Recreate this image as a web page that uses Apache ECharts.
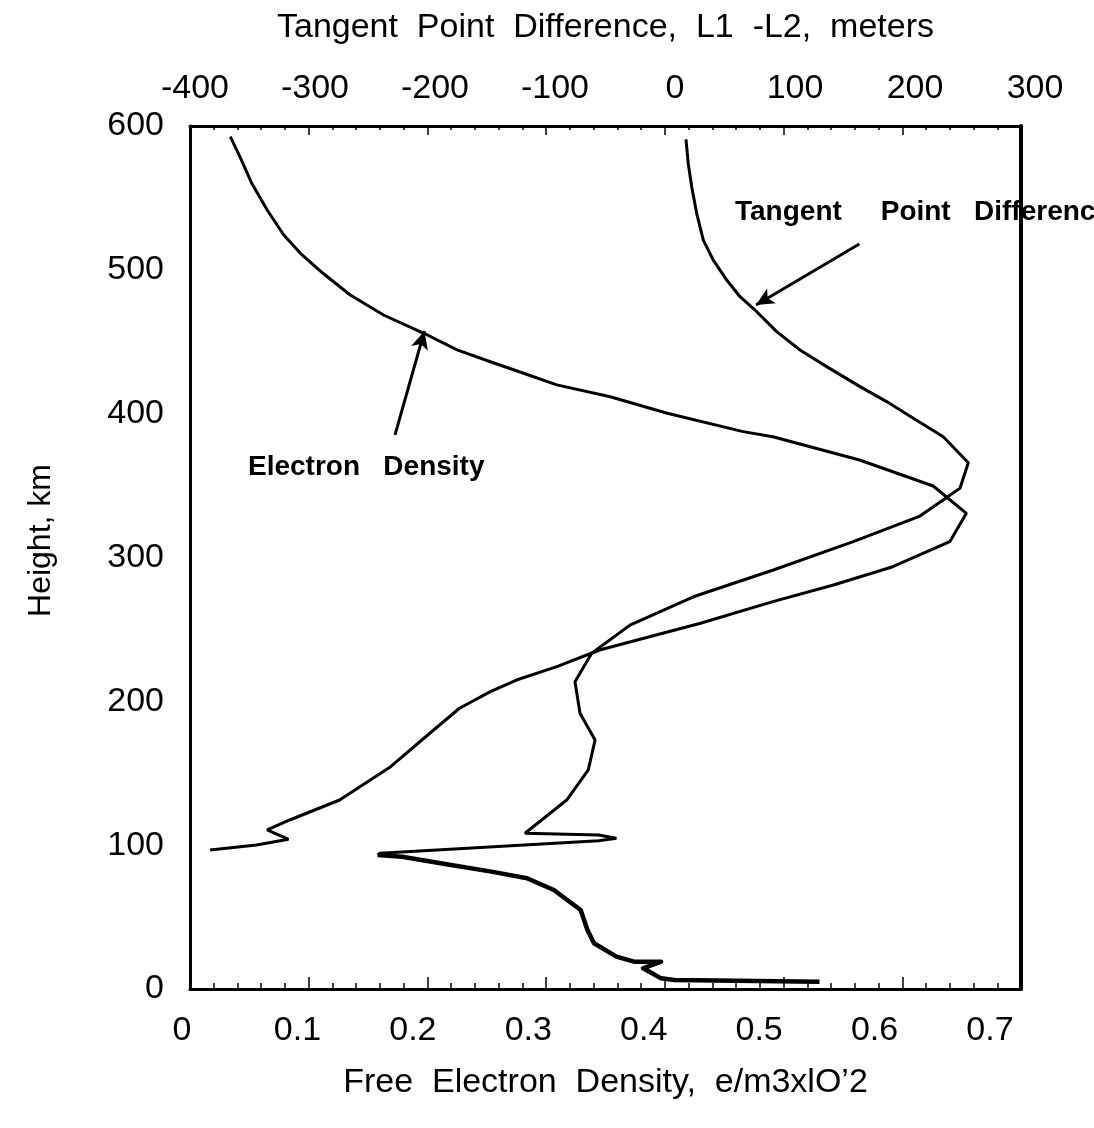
<!DOCTYPE html>
<html>
<head>
<meta charset="utf-8">
<script src="https://cdn.jsdelivr.net/npm/echarts@6/dist/echarts.min.js"></script>
<style>
  html, body { margin: 0; padding: 0; background: #fff; }
  #chart { width: 1094px; height: 1128px; }
</style>
</head>
<body>
<div id="chart"></div>
<script>
// ---- data ----
// Electron density profile: density (e/m3 x 10^12) vs height (km)
const edDensity = [0.034,0.042,0.052,0.065,0.079,0.093,0.112,0.135,0.163,0.197,0.225,0.253,0.281,0.309,0.354,0.402,0.466,0.491,0.564,0.626,0.654,0.640,0.592,0.542,0.491,0.430,0.345,0.309,0.275,0.253,0.227,0.202,0.169,0.126,0.084,0.065,0.083,0.056,0.017];
const edHeight  = [592.6,578.7,560.2,541.6,524.2,511.5,497.6,482.5,468.6,455.9,444.3,436.1,428.1,420.0,411.8,400.3,387.5,384.0,367.8,349.7,330.7,311.0,293.6,280.9,269.3,254.3,235.7,224.1,214.8,206.7,195.2,177.8,154.6,131.4,117.5,110.6,104.1,100.1,96.6];

// Tangent point difference L1-L2 (m) vs height (km), upper (smooth) part
const tpDiff   = [17.8,19.7,22.6,26.8,32.4,40.8,52.1,63.3,77.4,94.2,113.8,136.3,164.4,186.8,209.3,234.5,255.6,248.6,214.9,158.7,91.4,24.0,-29.4,-61.6,-75.7,-71.5,-58.8,-64.5,-82.7,-117.8,-55.8,-40.8,-55.8,-240.1,-241.9];
const tpHeight = [590.7,574.0,557.8,539.3,520.7,506.8,492.9,481.3,470.9,457.0,444.3,432.7,418.8,408.4,396.8,384.0,365.9,348.1,328.8,311.0,291.3,272.7,253.0,233.4,213.6,191.7,173.1,152.3,131.4,108.3,107.1,104.8,103.1,94.3,93.2];
// lower (noisy) part of the same trace
const tpLowDiff   = [-241.9,-221.4,-180.1,-146.1,-116.1,-93.5,-82.2,-70.9,-65.2,-59.7,-40.8,-26.0,-3.2,-18.4,-10.8,-3.2,8.1,130.3];
const tpLowHeight = [93.2,92.0,86.2,81.6,77.0,68.8,61.9,54.9,41.0,31.8,22.5,19.0,19.0,14.4,10.9,7.4,6.3,5.1];

// Axis tick labels
const densityTicks = [0, 0.1, 0.2, 0.3, 0.4, 0.5, 0.6, 0.7];
const diffTicks    = [-400, -300, -200, -100, 0, 100, 200, 300];
const heightTicks  = [0, 100, 200, 300, 400, 500, 600];

// Annotation arrows (tail -> tip) in data units
const edArrow = { tail: [0.1727, 385.2], tip: [0.1975, 457.5] };
const tpArrow = { tail: [163.8, 518.0], tip: [76.8, 475.5] };

// ---- chart ----
const FONT = '"Liberation Sans", Arial, sans-serif';
const chart = echarts.init(document.getElementById('chart'), null, { renderer: 'canvas' });

const pairs = (xs, ys) => xs.map((x, i) => [x, ys[i]]);
const densityLabel = v => {
  const t = densityTicks.find(d => Math.abs(d - v) < 1e-6);
  return t === undefined ? '' : (t === 0 ? '0' : t.toFixed(1));
};
const diffLabel = v => {
  const t = diffTicks.find(d => Math.abs(d - v) < 1e-6);
  return t === undefined ? '' : String(t);
};
const labelFont = { fontFamily: FONT, fontSize: 34, color: '#000' };
const hMin = heightTicks[0], hMax = heightTicks[heightTicks.length - 1];

const option = {
  animation: false,
  backgroundColor: '#fff',
  grid: [
    { left: 190, top: 126, right: 73, bottom: 139, containLabel: false },
    // label rows of the printed scales (slightly offset from the tick marks in the original)
    { left: 182, top: 126, right: 104, bottom: 139, containLabel: false, show: false },
    { left: 195, top: 126, right: 59, bottom: 139, containLabel: false, show: false }
  ],
  xAxis: [
    {
      type: 'value', position: 'bottom', gridIndex: 0,
      min: densityTicks[0], max: densityTicks[densityTicks.length - 1], interval: 0.1,
      name: 'Free  Electron  Density,  e/m3xlO\u20192',
      nameLocation: 'middle', nameGap: 77,
      nameTextStyle: labelFont,
      axisLine: { show: true, onZero: false, lineStyle: { color: '#000', width: 3 } },
      axisTick: { show: true, inside: true, length: 12, lineStyle: { color: '#000', width: 1.5 } },
      minorTick: { show: true, splitNumber: 5, length: 6, lineStyle: { color: '#000', width: 1.5 } },
      axisLabel: { show: false },
      splitLine: { show: false }
    },
    {
      type: 'value', position: 'top', gridIndex: 0,
      min: diffTicks[0], max: diffTicks[diffTicks.length - 1], interval: 100,
      name: 'Tangent  Point  Difference,  L1  -L2,  meters',
      nameLocation: 'middle', nameGap: 81,
      nameTextStyle: labelFont,
      axisLine: { show: true, onZero: false, lineStyle: { color: '#000', width: 3 } },
      axisTick: { show: true, inside: true, length: 9, lineStyle: { color: '#000', width: 1.5 } },
      minorTick: { show: true, splitNumber: 5, length: 4, lineStyle: { color: '#000', width: 1.5 } },
      axisLabel: { show: false },
      splitLine: { show: false }
    },
    {
      type: 'value', position: 'bottom', gridIndex: 1,
      min: densityTicks[0], max: densityTicks[densityTicks.length - 1], interval: 0.1,
      axisLine: { show: false, onZero: false },
      axisTick: { show: false },
      axisLabel: Object.assign({ margin: 25, formatter: densityLabel }, labelFont),
      splitLine: { show: false }
    },
    {
      type: 'value', position: 'top', gridIndex: 2,
      min: diffTicks[0], max: diffTicks[diffTicks.length - 1], interval: 100,
      axisLine: { show: false, onZero: false },
      axisTick: { show: false },
      axisLabel: Object.assign({ margin: 20, formatter: diffLabel }, labelFont),
      splitLine: { show: false }
    }
  ],
  yAxis: [
    {
      type: 'value', position: 'left', gridIndex: 0,
      min: hMin, max: hMax, interval: 100,
      name: 'Height, km',
      nameLocation: 'middle', nameGap: 133,
      nameTextStyle: Object.assign({ padding: [0, 0, 0, 34] }, labelFont, { fontSize: 32 }),
      axisLine: { show: true, onZero: false, lineStyle: { color: '#000', width: 3 } },
      axisTick: { show: false },
      axisLabel: Object.assign({ margin: 26 }, labelFont),
      splitLine: { show: false }
    },
    {
      type: 'value', position: 'right', gridIndex: 0,
      min: hMin, max: hMax, interval: 100,
      axisLine: { show: true, onZero: false, lineStyle: { color: '#000', width: 4 } },
      axisTick: { show: false },
      axisLabel: { show: false },
      splitLine: { show: false }
    },
    { type: 'value', gridIndex: 1, show: false, min: hMin, max: hMax },
    { type: 'value', gridIndex: 2, show: false, min: hMin, max: hMax }
  ],
  series: [
    {
      name: 'Electron Density', type: 'line',
      xAxisIndex: 0, yAxisIndex: 0,
      data: pairs(edDensity, edHeight),
      symbol: 'none', smooth: false,
      lineStyle: { color: '#000', width: 3 },
      markLine: {
        silent: true, animation: false,
        symbol: ['none', 'arrow'], symbolSize: [13, 18],
        label: { show: false },
        lineStyle: { color: '#000', width: 3, type: 'solid' },
        data: [[{ coord: edArrow.tail }, { coord: edArrow.tip }]]
      }
    },
    {
      name: 'Tangent Point Difference', type: 'line',
      xAxisIndex: 1, yAxisIndex: 0,
      data: pairs(tpDiff, tpHeight),
      symbol: 'none', smooth: false,
      lineStyle: { color: '#000', width: 3 },
      markLine: {
        silent: true, animation: false,
        symbol: ['none', 'arrow'], symbolSize: [13, 18],
        label: { show: false },
        lineStyle: { color: '#000', width: 3, type: 'solid' },
        data: [[{ coord: tpArrow.tail }, { coord: tpArrow.tip }]]
      }
    },
    {
      name: 'Tangent Point Difference (low)', type: 'line',
      xAxisIndex: 1, yAxisIndex: 0,
      data: pairs(tpLowDiff, tpLowHeight),
      symbol: 'none', smooth: false,
      lineStyle: { color: '#000', width: 4.5, join: 'round' }
    }
  ],
  graphic: [
    {
      type: 'text', left: 248, top: 453,
      style: { text: 'Electron   Density', font: 'bold 28px ' + FONT, fill: '#000' }
    },
    {
      type: 'text', left: 735, top: 198,
      style: { text: 'Tangent     Point   Difference', font: 'bold 28px ' + FONT, fill: '#000' }
    }
  ]
};

chart.setOption(option);
</script>
</body>
</html>
